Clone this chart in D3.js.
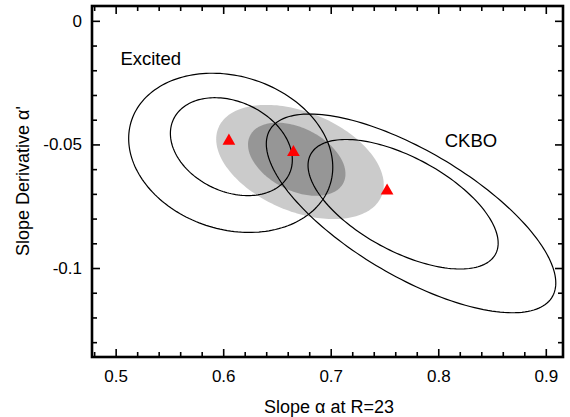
<!DOCTYPE html>
<html>
<head>
<meta charset="utf-8">
<script src="https://cdn.jsdelivr.net/npm/d3@7"></script>
<style>
  body { margin: 0; background: #fff; }
  text { font-family: "Liberation Sans", Arial, Helvetica, sans-serif; }
</style>
</head>
<body>
<div id="chart"></div>
<script>
// tick values
var xMajor = [0.5, 0.6, 0.7, 0.8, 0.9];
var xMinor = [0.48, 0.52, 0.54, 0.56, 0.58, 0.62, 0.64, 0.66, 0.68, 0.72, 0.74, 0.76, 0.78,
              0.82, 0.84, 0.86, 0.88];
var yMajor = [0, -0.05, -0.1];
var yMinor = [-0.01, -0.02, -0.03, -0.04, -0.06, -0.07, -0.08, -0.09, -0.11, -0.12, -0.13];

// shaded confidence regions (center, half widths, correlation)
var shaded = [
  { cx: 0.6714, cy: -0.0571, sx: 0.0779, sy: 0.0231, rho: -0.40, fill: "#cbcbcb" },
  { cx: 0.6684, cy: -0.0560, sx: 0.0453, sy: 0.0148, rho: -0.40, fill: "#969696" }
];

// contour lines for the two populations
var contours = [
  { name: "Excited outer", cx: 0.6070, cy: -0.0534, sx: 0.0949, sy: 0.0322, rho: -0.18 },
  { name: "Excited inner", cx: 0.6076, cy: -0.0509, sx: 0.0567, sy: 0.0198, rho: -0.27 },
  { name: "CKBO outer", cx: 0.7747, cy: -0.0779, sx: 0.1346, sy: 0.0402, rho: -0.70 },
  { name: "CKBO inner", cx: 0.7673, cy: -0.0742, sx: 0.0884, sy: 0.0262, rho: -0.60 }
];

// best fit points
var pointsX = [0.6053, 0.6653, 0.7524];
var pointsY = [-0.0486, -0.0532, -0.0688];

var labels = [
  { text: "Excited", x: 0.5044, y: -0.0179 },
  { text: "CKBO", x: 0.8060, y: -0.0512 }
];

var w = 570, h = 417;
var mLeft = 92, mRight = 563, mTop = 6, mBottom = 357;

var xScale = d3.scaleLinear().domain([0.478, 0.916]).range([mLeft, mRight]);
var yScale = d3.scaleLinear().domain([0.006, -0.136]).range([mTop, mBottom]);

var svg = d3.select("#chart").append("svg")
  .attr("width", w)
  .attr("height", h);

// build an ellipse outline from center, spreads and correlation
function ellipsePoints(e) {
  var pts = [];
  for (var i = 0; i < 180; i++) {
    var t = i / 180 * 2 * Math.PI;
    var dx = e.sx * Math.cos(t);
    var dy = e.sy * (e.rho * Math.cos(t) + Math.sqrt(1 - e.rho * e.rho) * Math.sin(t));
    pts.push([e.cx + dx, e.cy + dy]);
  }
  return pts;
}

var line = d3.line()
  .x(function(d) { return xScale(d[0]); })
  .y(function(d) { return yScale(d[1]); })
  .curve(d3.curveLinearClosed);

var plot = svg.append("g");

plot.selectAll("path.shade")
  .data(shaded)
  .enter()
  .append("path")
  .attr("class", "shade")
  .attr("d", function(d) { return line(ellipsePoints(d)); })
  .attr("fill", function(d) { return d.fill; })
  .attr("stroke", "none");

plot.selectAll("path.contour")
  .data(contours)
  .enter()
  .append("path")
  .attr("class", "contour")
  .attr("d", function(d) { return line(ellipsePoints(d)); })
  .attr("fill", "none")
  .attr("stroke", "#000")
  .attr("stroke-width", 1.2);

var tri = d3.symbol().type(d3.symbolTriangle).size(70);
plot.selectAll("path.pt")
  .data(pointsX)
  .enter()
  .append("path")
  .attr("class", "pt")
  .attr("transform", function(d, i) {
    return "translate(" + xScale(d) + "," + yScale(pointsY[i]) + ")";
  })
  .attr("d", tri)
  .attr("fill", "#ff0000");

plot.selectAll("text.lab")
  .data(labels)
  .enter()
  .append("text")
  .attr("class", "lab")
  .attr("x", function(d) { return xScale(d.x); })
  .attr("y", function(d) { return yScale(d.y); })
  .attr("font-size", "18.5px")
  .text(function(d) { return d.text; });

// axes, ticks pointing inward on all four sides
var fmt = function(d) { return String(d); };

function styleAxis(g) {
  g.select(".domain").remove();
  g.selectAll(".tick line").attr("stroke", "#000").attr("stroke-width", 1.6);
  g.selectAll(".tick text").attr("font-size", "17px").attr("fill", "#000")
    .style("font-family", "'Liberation Sans', Arial, sans-serif");
}

svg.append("g")
  .attr("transform", "translate(0," + mBottom + ")")
  .call(d3.axisBottom(xScale).tickValues(xMajor).tickFormat(fmt).tickSizeInner(-8).tickSizeOuter(0).tickPadding(13))
  .call(styleAxis);
svg.append("g")
  .attr("transform", "translate(0," + mBottom + ")")
  .call(d3.axisBottom(xScale).tickValues(xMinor).tickFormat("").tickSizeInner(-5).tickSizeOuter(0))
  .call(styleAxis);
svg.append("g")
  .attr("transform", "translate(0," + mTop + ")")
  .call(d3.axisTop(xScale).tickValues(xMajor).tickFormat("").tickSizeInner(-8).tickSizeOuter(0))
  .call(styleAxis);
svg.append("g")
  .attr("transform", "translate(0," + mTop + ")")
  .call(d3.axisTop(xScale).tickValues(xMinor).tickFormat("").tickSizeInner(-5).tickSizeOuter(0))
  .call(styleAxis);

svg.append("g")
  .attr("transform", "translate(" + mLeft + ",0)")
  .call(d3.axisLeft(yScale).tickValues(yMajor).tickFormat(fmt).tickSizeInner(-8).tickSizeOuter(0).tickPadding(10))
  .call(styleAxis);
svg.append("g")
  .attr("transform", "translate(" + mLeft + ",0)")
  .call(d3.axisLeft(yScale).tickValues(yMinor).tickFormat("").tickSizeInner(-5).tickSizeOuter(0))
  .call(styleAxis);
svg.append("g")
  .attr("transform", "translate(" + mRight + ",0)")
  .call(d3.axisRight(yScale).tickValues(yMajor).tickFormat("").tickSizeInner(-8).tickSizeOuter(0))
  .call(styleAxis);
svg.append("g")
  .attr("transform", "translate(" + mRight + ",0)")
  .call(d3.axisRight(yScale).tickValues(yMinor).tickFormat("").tickSizeInner(-5).tickSizeOuter(0))
  .call(styleAxis);

// frame
svg.append("rect")
  .attr("x", mLeft)
  .attr("y", mTop)
  .attr("width", mRight - mLeft)
  .attr("height", mBottom - mTop)
  .attr("fill", "none")
  .attr("stroke", "#000")
  .attr("stroke-width", 2.6);

// axis titles
svg.append("text")
  .attr("x", 329)
  .attr("y", 413)
  .attr("text-anchor", "middle")
  .attr("font-size", "18px")
  .text("Slope \u03b1 at R=23");

svg.append("text")
  .attr("transform", "translate(28.5," + 181 + ") rotate(-90)")
  .attr("text-anchor", "middle")
  .attr("font-size", "18px")
  .text("Slope Derivative \u03b1'");
</script>
</body>
</html>
